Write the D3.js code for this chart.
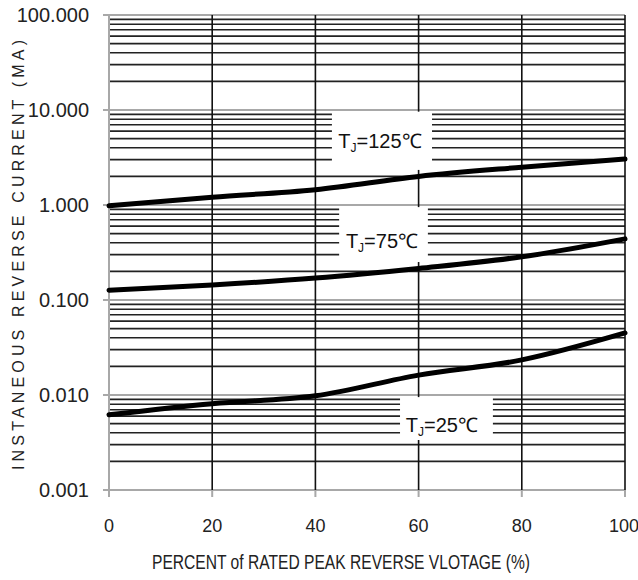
<!DOCTYPE html>
<html>
<head>
<meta charset="utf-8">
<script src="https://cdn.jsdelivr.net/npm/d3@7"></script>
<style>
  body { margin: 0; background: #fff; }
  svg { display: block; }
</style>
</head>
<body>
<div id="chart"></div>
<script>
// Data
const percent = [0, 20, 40, 60, 80, 100];
const tj125 = [0.98, 1.21, 1.45, 2.0, 2.5, 3.05];
const tj75  = [0.127, 0.144, 0.170, 0.215, 0.285, 0.44];
const tj25  = [0.0062, 0.0081, 0.0098, 0.0162, 0.0234, 0.045];
const xTicks = [0, 20, 40, 60, 80, 100];
const yTicks = [0.001, 0.01, 0.1, 1, 10, 100];
const yTickLabels = ["0.001", "0.010", "0.100", "1.000", "10.000", "100.000"];

// label annotations (data units): text anchor and white box extents
const labels = [
  { name: "125", tx: 52.5, ty: 3.98,    bx0: 43.2, bx1: 62.6, by0: 2.34,    by1: 9.6 },
  { name: "75",  tx: 52.9, ty: 0.353,   bx0: 44.6, bx1: 61.8, by0: 0.251,   by1: 0.95 },
  { name: "25",  tx: 64.5, ty: 0.00408, bx0: 56.4, bx1: 74.4, by0: 0.00336, by1: 0.0095 }
];

const width = 638, height = 580;
const margin = { top: 15, right: 13, bottom: 90, left: 109 };
const narrow = "'Liberation Sans Narrow', 'Arial Narrow', 'Liberation Sans', sans-serif";

const svg = d3.select("#chart").append("svg")
  .attr("width", width)
  .attr("height", height);

const x = d3.scaleLinear()
  .domain([0, 100])
  .range([margin.left, width - margin.right]);

const y = d3.scaleLog()
  .domain([0.001, 100])
  .range([height - margin.bottom, margin.top]);

// minor horizontal gridlines (2..9 in each decade)
const minor = [];
yTicks.slice(0, -1).forEach(d => {
  for (let k = 2; k <= 9; k++) minor.push(d * k);
});
svg.append("g").selectAll("line")
  .data(minor)
  .enter().append("line")
  .attr("x1", x(0)).attr("x2", x(100))
  .attr("y1", d => y(d)).attr("y2", d => y(d))
  .attr("stroke", "#222")
  .attr("stroke-width", 1.6);

// major decade lines (grey) with left ticks
svg.append("g").selectAll("line")
  .data(yTicks)
  .enter().append("line")
  .attr("x1", x(0) - 6).attr("x2", x(100))
  .attr("y1", d => y(d)).attr("y2", d => y(d))
  .attr("stroke", "#a8a8a8")
  .attr("stroke-width", 2);

// vertical gridlines
svg.append("g").selectAll("line")
  .data(xTicks.filter(d => d > 0))
  .enter().append("line")
  .attr("x1", d => x(d)).attr("x2", d => x(d))
  .attr("y1", y(100)).attr("y2", y(0.001))
  .attr("stroke", "#111")
  .attr("stroke-width", 1.6);

// bottom ticks
svg.append("g").selectAll("line")
  .data(xTicks)
  .enter().append("line")
  .attr("x1", d => x(d)).attr("x2", d => x(d))
  .attr("y1", y(0.001)).attr("y2", y(0.001) + 7)
  .attr("stroke", "#a8a8a8")
  .attr("stroke-width", 2);

// y axis line
svg.append("line")
  .attr("x1", x(0)).attr("x2", x(0))
  .attr("y1", y(100)).attr("y2", y(0.001))
  .attr("stroke", "#a8a8a8")
  .attr("stroke-width", 2);

// white label boxes hiding the grid
svg.append("g").selectAll("rect")
  .data(labels)
  .enter().append("rect")
  .attr("x", d => x(d.bx0))
  .attr("y", d => y(d.by1))
  .attr("width", d => x(d.bx1) - x(d.bx0))
  .attr("height", d => y(d.by0) - y(d.by1))
  .attr("fill", "#fff");

// curves
const series = [tj125, tj75, tj25];
const line = d3.line()
  .x((d, i) => x(percent[i]))
  .y(d => y(d))
  .curve(d3.curveMonotoneX);

svg.append("g").selectAll("path")
  .data(series)
  .enter().append("path")
  .attr("d", d => line(d))
  .attr("fill", "none")
  .attr("stroke", "#000")
  .attr("stroke-width", 5)
  .attr("stroke-linecap", "round");

// label text
const lt = svg.append("g").selectAll("text")
  .data(labels)
  .enter().append("text")
  .attr("x", d => x(d.tx))
  .attr("y", d => y(d.ty))
  .attr("text-anchor", "middle")
  .style("font-family", narrow)
  .style("font-size", "20px")
  .attr("fill", "#111");
lt.append("tspan").text("T");
lt.append("tspan").attr("dy", 4).style("font-size", "12px").text("J");
lt.append("tspan").attr("dy", -4).text(d => "=" + d.name + "\u2103");

// y tick labels
svg.append("g").selectAll("text")
  .data(yTicks)
  .enter().append("text")
  .attr("x", x(0) - 20)
  .attr("y", d => y(d))
  .attr("dy", "0.35em")
  .attr("text-anchor", "end")
  .style("font-family", narrow)
  .style("font-size", "20px")
  .attr("fill", "#222")
  .text((d, i) => yTickLabels[i]);

// x tick labels
svg.append("g").selectAll("text")
  .data(xTicks)
  .enter().append("text")
  .attr("x", d => x(d) - (d === 100 ? 1 : 0))
  .attr("y", y(0.001) + 36)
  .attr("dy", "0.35em")
  .attr("text-anchor", "middle")
  .style("font-family", narrow)
  .style("font-size", "18px")
  .attr("fill", "#222")
  .text(d => d);

// x axis title
svg.append("text")
  .attr("x", 341)
  .attr("y", 562)
  .attr("dy", "0.35em")
  .attr("text-anchor", "middle")
  .attr("textLength", 378)
  .attr("lengthAdjust", "spacingAndGlyphs")
  .style("font-family", narrow)
  .style("font-size", "20px")
  .attr("fill", "#222")
  .text("PERCENT of RATED PEAK REVERSE VLOTAGE (%)");

// y axis title
svg.append("text")
  .attr("transform", "translate(18,255) rotate(-90)")
  .attr("text-anchor", "middle")
  .attr("dy", "0.35em")
  .attr("textLength", 430)
  .attr("lengthAdjust", "spacing")
  .style("font-family", "'Liberation Sans', Arial, sans-serif")
  .style("font-size", "16px")
  .attr("fill", "#222")
  .text("INSTANEOUS REVERSE CURRENT (MA)");
</script>
</body>
</html>
